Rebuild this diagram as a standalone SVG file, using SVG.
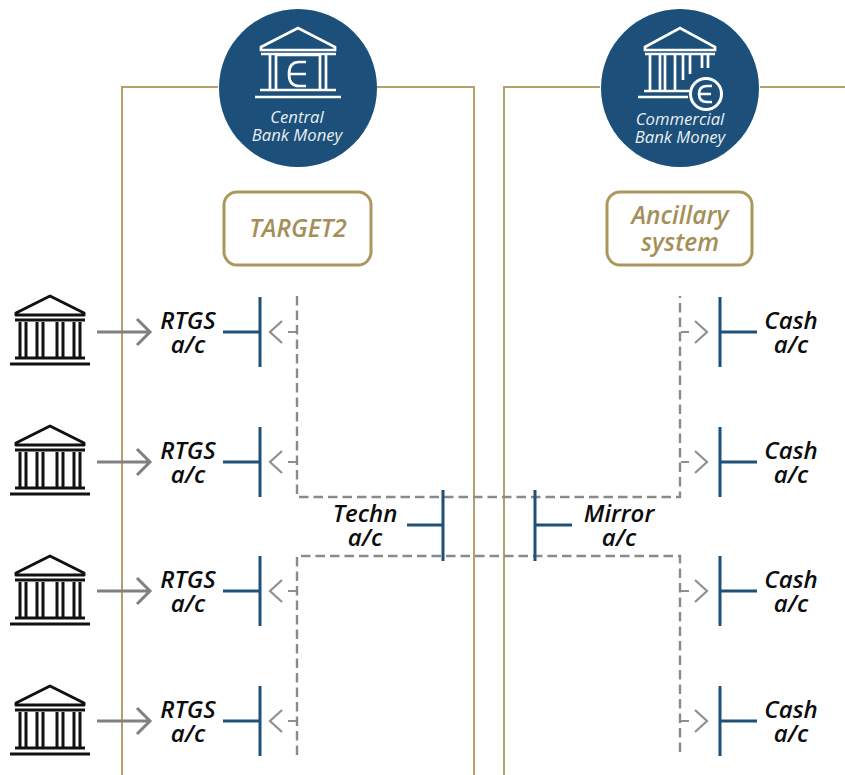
<svg xmlns="http://www.w3.org/2000/svg" xmlns:xlink="http://www.w3.org/1999/xlink" width="845" height="775" viewBox="0 0 845 775">
<style>
text{font-family:"Open Sans","Noto Sans",sans-serif;font-style:italic;text-anchor:middle}
.ac{font-size:24px;font-weight:600;fill:#0c0c0c}
.gold{fill:none;stroke:#b5a06c;stroke-width:2}
.blue{fill:none;stroke:#1f5078;stroke-width:3}
.dash{fill:none;stroke:#8a8a8a;stroke-width:2.4;stroke-dasharray:9.5 5}
.arr{fill:none;stroke:#808080;stroke-width:3}
.arrd{fill:none;stroke:#8f8f8f;stroke-width:2.2}
.cap{font-size:16.7px;fill:#e8eef3}
.box{fill:#fff;stroke:#ad965c;stroke-width:3}
.boxt{font-size:24.5px;font-weight:600;fill:#a58f58}
.w{fill:none;stroke:#fff;stroke-width:2.7}
.k{fill:none;stroke:#111;stroke-width:3}
</style>
<defs>
<g id="bank">
<path class="k" d="M16 15L50 -2L84 15V17H16Z" stroke-linejoin="round"/>
<path class="k" d="M15 22H85M20 24V60M26 24V60M37 24V60M43 24V60M57 24V60M63 24V60M74 24V60M80 24V60M15 60H85"/>
<path class="k" d="M10 66H90"/>
</g>
<g id="rtgs">
<path class="arr" d="M97 52H150M137 39L150 52L137 65"/>
<path class="blue" d="M223 52H260M260 17V87"/>
<path class="arrd" d="M296 52H288M282 41L270 52L282 63"/>
<text class="ac" x="188" y="49">RTGS</text>
<text class="ac" x="188" y="73">a/c</text>
</g>
<g id="cash">
<path class="arrd" d="M681 52H689M695 41L707 52L695 63"/>
<path class="blue" d="M720 17V87M720 52H757"/>
<text class="ac" x="791" y="49">Cash</text>
<text class="ac" x="791" y="73">a/c</text>
</g>
</defs>
<g id="connectors">
<path class="gold" d="M218 87H122V775M377 87H474V775M600 87H504V775M760 87H845"/>
<path class="dash" d="M297 296V497H680V296M297 755V556H680V755"/>
</g>
<g id="central-bank">
<circle cx="298" cy="88" r="79" fill="#1c4f79"/>
<path class="w" d="M261 47L298 28L335 47V50H261ZM261 54H336M270 55V90M276 55V90M320 55V90M326 55V90M276 55H320M260 90H336M255 97H341"/>
<path class="w" d="M306 62H299Q289 62 289 74Q289 86 299 86H306M289 74H306"/>
<text class="cap"><tspan x="297" y="123">Central</tspan><tspan x="297" y="141">Bank Money</tspan></text>
</g>
<g id="commercial-bank">
<circle cx="680" cy="88" r="79" fill="#1c4f79"/>
<path class="w" d="M645 47L680 28L715 47V50H645ZM645 54H715M650 55V91M660 55V91M665 55V91M675 55V91M683 55V80M690 55V74M702 55V68M708 55V68M644 91H690M638 97H688"/>
<circle cx="706" cy="94" r="15.5" fill="#1c4f79" stroke="#fff" stroke-width="3"/>
<path class="w" d="M712 86H707Q699 86 699 94Q699 102 707 102H712M699 94H711"/>
<text class="cap"><tspan x="680" y="125">Commercial</tspan><tspan x="680" y="143">Bank Money</tspan></text>
</g>
<g id="target2"><rect class="box" x="224" y="192" width="147" height="73" rx="13"/><text class="boxt" x="298" y="237">TARGET2</text></g>
<g id="ancillary"><rect class="box" x="607" y="192" width="145" height="73" rx="13"/><text class="boxt"><tspan x="680" y="224">Ancillary</tspan><tspan x="680" y="251">system</tspan></text></g>
<g id="bank-1"><use xlink:href="#bank" y="298"/></g>
<g id="bank-2"><use xlink:href="#bank" y="428"/></g>
<g id="bank-3"><use xlink:href="#bank" y="558"/></g>
<g id="bank-4"><use xlink:href="#bank" y="688"/></g>
<g id="rtgs-1"><use xlink:href="#rtgs" y="280"/></g>
<g id="rtgs-2"><use xlink:href="#rtgs" y="410"/></g>
<g id="rtgs-3"><use xlink:href="#rtgs" y="539"/></g>
<g id="rtgs-4"><use xlink:href="#rtgs" y="669"/></g>
<g id="cash-1"><use xlink:href="#cash" y="280"/></g>
<g id="cash-2"><use xlink:href="#cash" y="410"/></g>
<g id="cash-3"><use xlink:href="#cash" y="539"/></g>
<g id="cash-4"><use xlink:href="#cash" y="669"/></g>
<g id="techn"><path class="blue" d="M407 525H443M443 490V561"/><text class="ac"><tspan x="365" y="522">Techn</tspan><tspan x="365" y="546">a/c</tspan></text></g>
<g id="mirror"><path class="blue" d="M535 490V561M535 525H572"/><text class="ac"><tspan x="619" y="522">Mirror</tspan><tspan x="619" y="546">a/c</tspan></text></g>
</svg>
